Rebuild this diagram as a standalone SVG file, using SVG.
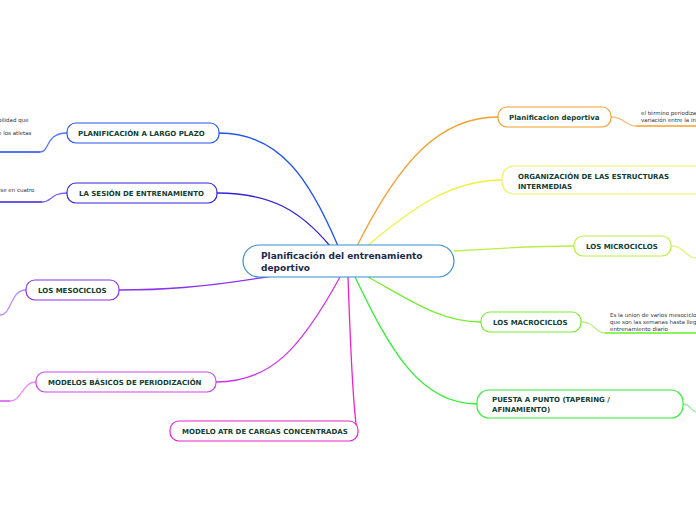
<svg xmlns="http://www.w3.org/2000/svg" width="696" height="520" viewBox="0 0 696 520">
<style>
.n{fill:#fff;stroke-width:1.2}
.t{font-family:"DejaVu Sans",sans-serif;font-weight:bold;font-size:7px;fill:#123d30}
.s{font-family:"DejaVu Sans",sans-serif;font-size:5.5px;fill:#333}
.c{fill:none;stroke-width:1.3}
</style>
<rect width="696" height="520" fill="#fff"/>
<g id="connectors">
<path class="c" stroke="#2255ee" d="M338,246 C310,180 280,133 219,133"/>
<path class="c" stroke="#3322dd" d="M330,246 C300,210 270,193 217,193"/>
<path class="c" stroke="#8833ee" d="M272,276 C200,288 160,290 119,290"/>
<path class="c" stroke="#cc33ee" d="M340,277 C300,350 270,382 216,382"/>
<path class="c" stroke="#ee22cc" d="M348,277 C350,330 352,400 357,431"/>
<path class="c" stroke="#f5a030" d="M357,246 C400,160 440,117 498,117"/>
<path class="c" stroke="#f0f040" d="M367,246 C410,210 450,180 502,180"/>
<path class="c" stroke="#bbee44" d="M454,251 C500,248 540,246 574,246"/>
<path class="c" stroke="#77ee33" d="M368,277 C410,300 440,322 481,322"/>
<path class="c" stroke="#33ee33" d="M355,277 C390,350 420,404 477,404"/>
<path class="c" stroke="#5577ff" stroke-width="1" d="M67,133 C45,133 50,152 40,152"/>
<path class="c" stroke="#2244ee" stroke-width="1.6" d="M0,152 H40"/>
<path class="c" stroke="#7766ff" stroke-width="1" d="M67,193 C50,193 52,202 42,202"/>
<path class="c" stroke="#3322dd" stroke-width="1.6" d="M0,202 H42"/>
<path class="c" stroke="#bb88ff" stroke-width="1" d="M26,290 C10,290 12,315 0,315"/>
<path class="c" stroke="#ee88ff" stroke-width="1" d="M36,382 C22,382 22,401 10,401"/>
<path class="c" stroke="#cc33ee" stroke-width="1.6" d="M0,401 H10"/>
<path class="c" stroke="#f8c080" stroke-width="1" d="M611,117 C625,117 625,126 636,126"/>
<path class="c" stroke="#f5a030" stroke-width="1.6" d="M636,126 H696"/>
<path class="c" stroke="#ddf588" stroke-width="1" d="M671,246 C685,246 685,258 696,258"/>
<path class="c" stroke="#bbee88" stroke-width="1" d="M581,322 C595,322 595,333 605,333"/>
<path class="c" stroke="#66ee22" stroke-width="1.6" d="M605,333 H696"/>
<path class="c" stroke="#99ee99" stroke-width="1" d="M683,404 C690,404 690,410 696,412"/>
</g>
<g id="center"><rect class="n" x="243" y="245" width="211" height="32" rx="16" stroke="#3a8ed0"/>
<text class="t" x="261" y="259" style="font-size:9px;fill:#1b2a4a">Planificación del entrenamiento</text>
<text class="t" x="261" y="271" style="font-size:9px;fill:#1b2a4a">deportivo</text></g>
<g id="n1"><rect class="n" x="67" y="123" width="152" height="20" rx="9" stroke="#2255ee"/><text class="t" x="78" y="136">PLANIFICACIÓN A LARGO PLAZO</text>
<text class="s" x="-2" y="122">bilidad que</text><text class="s" x="-2" y="135">e los atletas</text></g>
<g id="n2"><rect class="n" x="67" y="183" width="150" height="20" rx="9" stroke="#3322dd"/><text class="t" x="79" y="196">LA SESIÓN DE ENTRENAMIENTO</text>
<text class="s" x="-2" y="192">rse en cuatro</text></g>
<g id="n3"><rect class="n" x="26" y="280" width="93" height="20" rx="9" stroke="#8833ee"/><text class="t" x="38" y="293">LOS MESOCICLOS</text></g>
<g id="n4"><rect class="n" x="36" y="372" width="180" height="20" rx="9" stroke="#cc44ee"/><text class="t" x="48" y="385">MODELOS BÁSICOS DE PERIODIZACIÓN</text></g>
<g id="n5"><rect class="n" x="170" y="421" width="188" height="20" rx="9" stroke="#ee22cc"/><text class="t" x="182" y="434">MODELO ATR DE CARGAS CONCENTRADAS</text></g>
<g id="n6"><rect class="n" x="498" y="107" width="113" height="20" rx="9" stroke="#f5a030"/><text class="t" x="509" y="120">Planificacion deportiva</text>
<text class="s" x="641" y="115">el término periodiza</text><text class="s" x="641" y="122">variación entre la in</text></g>
<g id="n7"><rect class="n" x="502" y="166" width="210" height="28" rx="12" stroke="#f0f060"/><text class="t" x="518" y="179">ORGANIZACIÓN DE LAS ESTRUCTURAS</text><text class="t" x="518" y="189">INTERMEDIAS</text></g>
<g id="n8"><rect class="n" x="574" y="236" width="97" height="20" rx="9" stroke="#bbee44"/><text class="t" x="586" y="249">LOS MICROCICLOS</text></g>
<g id="n9"><rect class="n" x="481" y="312" width="100" height="20" rx="9" stroke="#77ee33"/><text class="t" x="493" y="325">LOS MACROCICLOS</text>
<text class="s" x="610" y="317">Es la union de varios mesociclo</text><text class="s" x="610" y="324">que son las semanas hasta lleg</text><text class="s" x="610" y="331">entrenamiento diario</text></g>
<g id="n10"><rect class="n" x="477" y="390" width="206" height="28" rx="12" stroke="#33ee33"/><text class="t" x="492" y="402">PUESTA A PUNTO (TAPERING /</text><text class="t" x="492" y="412">AFINAMIENTO)</text></g>
</svg>
